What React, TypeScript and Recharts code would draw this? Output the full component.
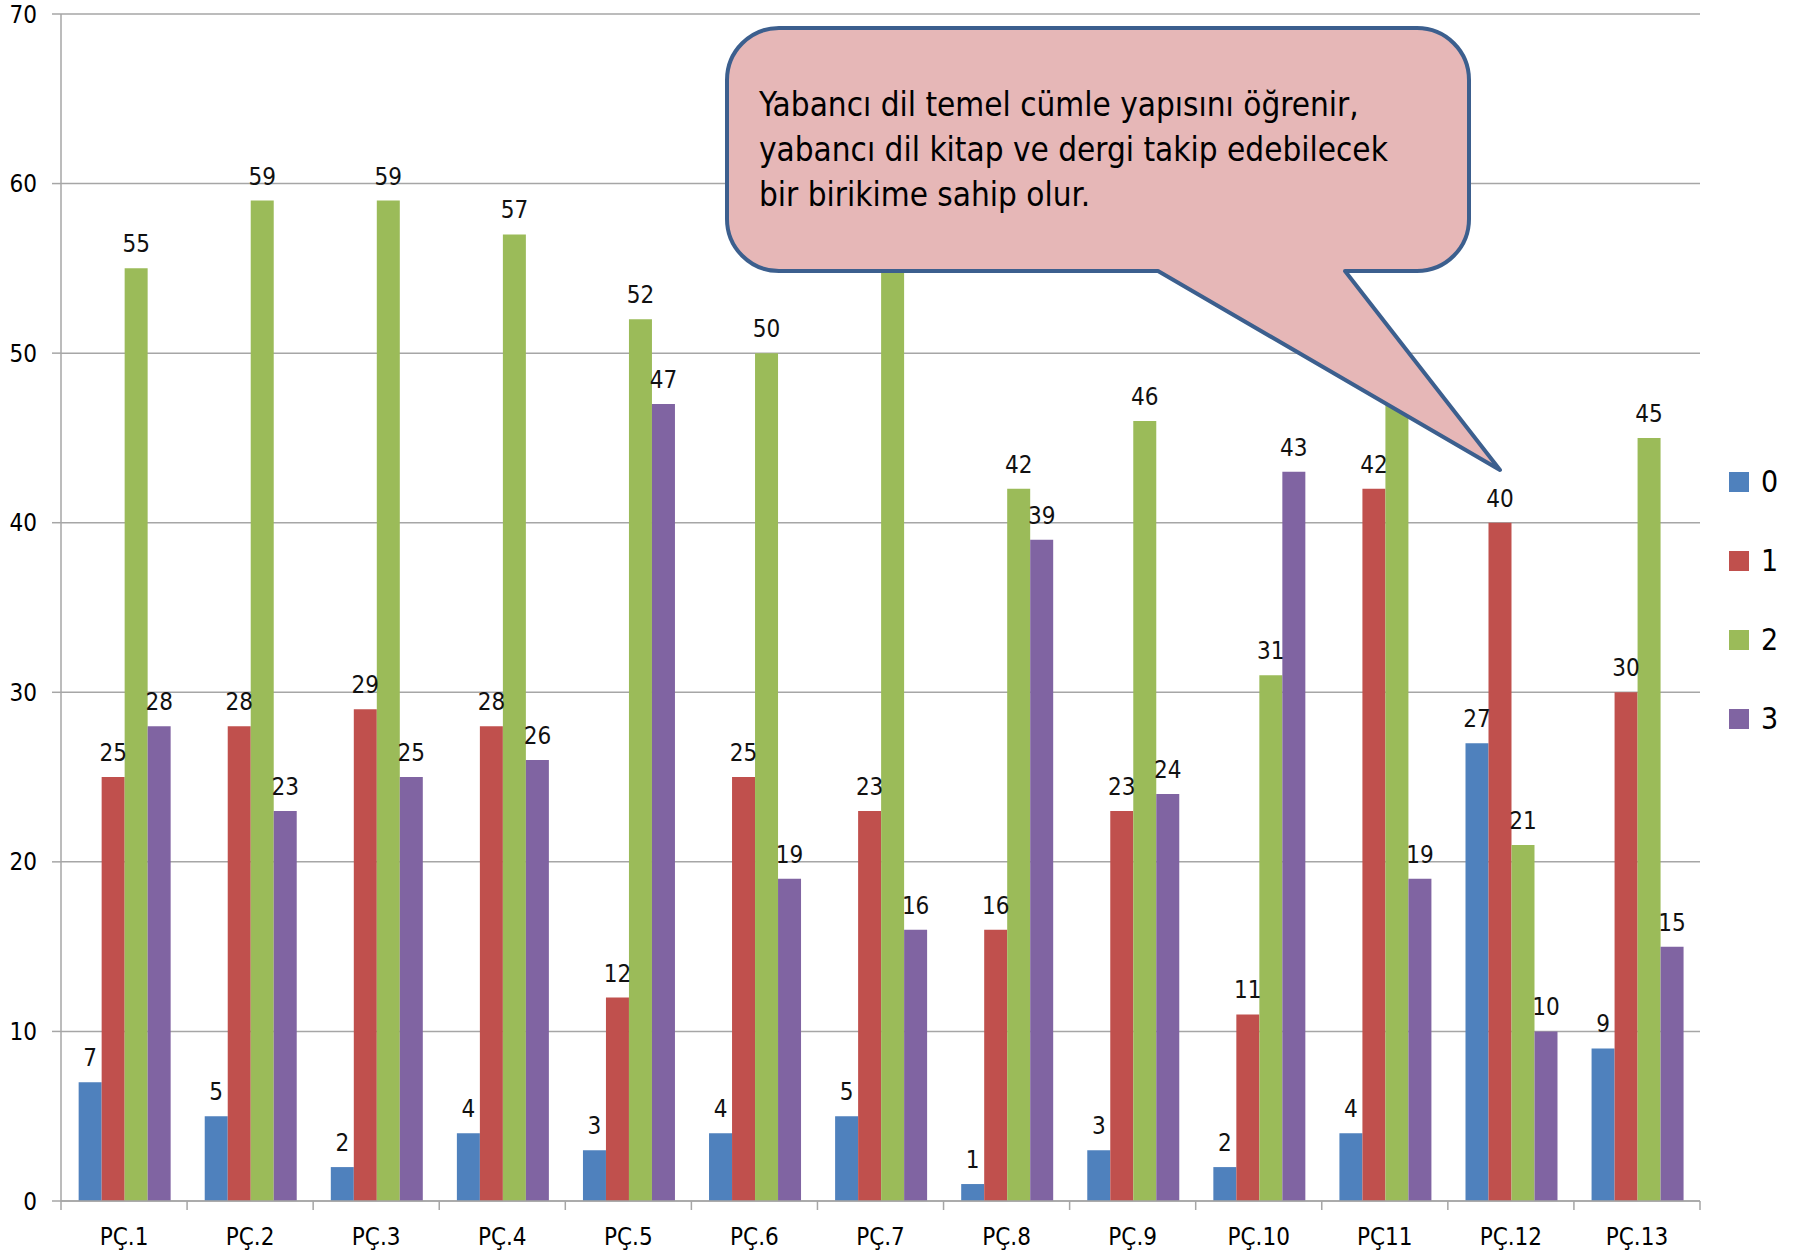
import React from 'react';
import { BarChart, Bar, XAxis, YAxis, CartesianGrid, LabelList } from 'recharts';

const categories = ['PÇ.1', 'PÇ.2', 'PÇ.3', 'PÇ.4', 'PÇ.5', 'PÇ.6', 'PÇ.7', 'PÇ.8', 'PÇ.9', 'PÇ.10', 'PÇ11', 'PÇ.12', 'PÇ.13'];
const series0 = [7, 5, 2, 4, 3, 4, 5, 1, 3, 2, 4, 27, 9];
const series1 = [25, 28, 29, 28, 12, 25, 23, 16, 23, 11, 42, 40, 30];
const series2 = [55, 59, 59, 57, 52, 50, 56, 42, 46, 31, 48, 21, 45];
const series3 = [28, 23, 25, 26, 47, 19, 16, 39, 24, 43, 19, 10, 15];
const seriesNames = ['0', '1', '2', '3'];
const yTicks = [0, 10, 20, 30, 40, 50, 60, 70];
const calloutLines = [
  'Yabancı dil temel cümle yapısını öğrenir,',
  'yabancı dil kitap ve dergi takip edebilecek',
  'bir birikime sahip olur.',
];

const COLORS = ['#4F81BD', '#C0504D', '#9BBB59', '#8064A2'];
const FONT = '"Liberation Sans Narrow", "DejaVu Sans Condensed", "Liberation Sans", sans-serif';
const GRID = '#A6A6A6';

const data = categories.map((c, i) => ({
  name: c,
  s0: series0[i],
  s1: series1[i],
  s2: series2[i],
  s3: series3[i],
}));

const W = 1806;
const H = 1253;
const M = { top: 14, right: 106, bottom: 0, left: 0 };
const Y_W = 61;
const X_H = 52;
const plotW = W - M.left - M.right - Y_W;

const XTick = (props: any) => {
  const { x, y, payload, index, visibleTicksCount } = props;
  const half = payload && payload.offset ? payload.offset : plotW / categories.length / 2;
  const count = visibleTicksCount || categories.length;
  return (
    <g>
      <line x1={x - half} x2={x - half} y1={y - 8} y2={y + 1} stroke={GRID} strokeWidth={1.5} />
      {index === count - 1 && (
        <line x1={x + half} x2={x + half} y1={y - 8} y2={y + 1} stroke={GRID} strokeWidth={1.5} />
      )}
      <text x={x} y={y + 36} textAnchor="middle" fontSize={24} fontFamily={FONT} fill="#000">
        {payload.value}
      </text>
    </g>
  );
};

export default function App() {
  const keys = ['s0', 's1', 's2', 's3'];
  return (
    <div style={{ position: 'absolute', left: 0, top: 0, width: W, height: H, background: '#fff' }}>
      <BarChart width={W} height={H} data={data} margin={M} barCategoryGap="14%" barGap={0}>
        <CartesianGrid horizontal vertical={false} stroke={GRID} strokeWidth={1.5} />
        <XAxis
          dataKey="name"
          height={X_H}
          stroke={GRID}
          strokeWidth={1.5}
          tickLine={false}
          tick={<XTick />}
          interval={0}
        />
        <YAxis
          width={Y_W}
          domain={[0, 70]}
          ticks={yTicks}
          stroke={GRID}
          strokeWidth={1.5}
          tickSize={9}
          tickMargin={15}
          tick={{ fontSize: 24, fill: '#000', fontFamily: FONT }}
          interval={0}
        />
        {keys.map((k, i) => (
          <Bar key={k} dataKey={k} name={seriesNames[i]} fill={COLORS[i]} isAnimationActive={false}>
            <LabelList dataKey={k} position="top" offset={16} fontSize={24} fill="#111" fontFamily={FONT} />
          </Bar>
        ))}
      </BarChart>
      <div style={{ position: 'absolute', left: 1729, top: 442, fontFamily: FONT }}>
        {seriesNames.map((n, i) => (
          <div key={n} style={{ display: 'flex', alignItems: 'center', height: 79 }}>
            <div style={{ width: 20, height: 20, background: COLORS[i], marginRight: 12 }} />
            <span style={{ fontSize: 30, color: '#000', lineHeight: '30px' }}>{n}</span>
          </div>
        ))}
      </div>
      <svg width={W} height={H} style={{ position: 'absolute', left: 0, top: 0, pointerEvents: 'none' }}>
        <path
          d="M 779 28 H 1417 A 52 52 0 0 1 1469 80 V 219 A 52 52 0 0 1 1417 271 H 1345 L 1500 470 L 1158 271 H 779 A 52 52 0 0 1 727 219 V 80 A 52 52 0 0 1 779 28 Z"
          fill="#E6B7B7"
          stroke="#3C5F8E"
          strokeWidth={4}
          strokeLinejoin="round"
        />
        {calloutLines.map((t, i) => (
          <text key={i} x={759} y={116 + i * 45} fontSize={33} fontFamily={FONT} fill="#000">
            {t}
          </text>
        ))}
      </svg>
    </div>
  );
}
